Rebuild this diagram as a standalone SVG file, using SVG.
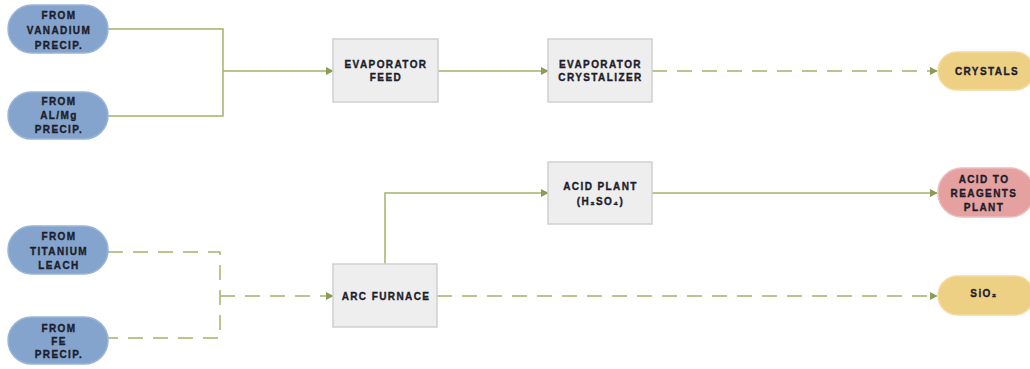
<svg xmlns="http://www.w3.org/2000/svg" width="1030" height="369" viewBox="0 0 1030 369">
<defs>
<style>
.src rect{fill:#84a4ce;stroke:#9ab4d8;stroke-width:1.5}
.box rect{fill:#eeeeee;stroke:#cfcfcf;stroke-width:1.5}
.yel rect{fill:#eed084;stroke:#f2dca4;stroke-width:1.5}
.pink rect{fill:#e4a1a0;stroke:#eebcbc;stroke-width:1.5}
text{font-family:"Liberation Sans",Arial,sans-serif;font-weight:bold;font-size:10px;fill:#1d1d2b;stroke:#1d1d2b;stroke-width:0.35;text-anchor:middle;letter-spacing:1.4px}
.ln{fill:none;stroke:#a2b26a;stroke-width:1.5}
.dash{stroke-dasharray:15 10}
</style>
<marker id="arr" viewBox="0 0 10 10" refX="9" refY="5" markerWidth="8" markerHeight="8" orient="auto" markerUnits="userSpaceOnUse">
<path d="M0,0 L10,5 L0,10 z" fill="#8d9c55"/>
</marker>
</defs>
<rect width="1030" height="369" fill="#ffffff"/>
<g id="connectors">
<path class="ln" d="M108,29 H223 V116 H108"/>
<path class="ln" d="M223,71 H333" marker-end="url(#arr)"/>
<path class="ln" d="M438,71 H548" marker-end="url(#arr)"/>
<path class="ln dash" d="M652,71 H937" marker-end="url(#arr)"/>
<path class="ln dash" d="M108,252 H220 V338 H108"/>
<path class="ln dash" d="M220,296 H333" marker-end="url(#arr)"/>
<path class="ln" d="M385,264 V193 H548" marker-end="url(#arr)"/>
<path class="ln" d="M652,193 H937" marker-end="url(#arr)"/>
<path class="ln dash" d="M437,296 H937" marker-end="url(#arr)"/>
</g>
<g id="from-vanadium" class="src">
<rect x="8" y="5" width="100" height="48" rx="24"/>
<text x="59" y="18.5">FROM</text><text x="59" y="33.5">VANADIUM</text><text x="59" y="48.5">PRECIP.</text>
</g>
<g id="from-almg" class="src">
<rect x="8" y="92" width="100" height="47" rx="23.5"/>
<text x="59" y="105">FROM</text><text x="59" y="118.5">AL/Mg</text><text x="59" y="133">PRECIP.</text>
</g>
<g id="from-titanium" class="src">
<rect x="8" y="226" width="100" height="48" rx="24"/>
<text x="59" y="240">FROM</text><text x="59" y="255">TITANIUM</text><text x="59" y="268.5">LEACH</text>
</g>
<g id="from-fe" class="src">
<rect x="8" y="317" width="100" height="47" rx="23.5"/>
<text x="59" y="331.5">FROM</text><text x="59" y="345">FE</text><text x="59" y="358">PRECIP.</text>
</g>
<g id="evaporator-feed" class="box">
<rect x="333" y="39" width="105" height="63"/>
<text x="386" y="68">EVAPORATOR</text><text x="386" y="80.5">FEED</text>
</g>
<g id="evaporator-crystalizer" class="box">
<rect x="548" y="39" width="104" height="63"/>
<text x="600.5" y="68">EVAPORATOR</text><text x="600.5" y="80.5">CRYSTALIZER</text>
</g>
<g id="acid-plant" class="box">
<rect x="548" y="162" width="104" height="62"/>
<text x="600.5" y="190">ACID PLANT</text><text x="600.5" y="205">(H₂SO₄)</text>
</g>
<g id="arc-furnace" class="box">
<rect x="333" y="264" width="104" height="63"/>
<text x="386" y="300">ARC FURNACE</text>
</g>
<g id="crystals" class="yel">
<rect x="938" y="52" width="96" height="38" rx="19"/>
<text x="987" y="75">CRYSTALS</text>
</g>
<g id="acid-to-reagents" class="pink">
<rect x="938" y="168" width="96" height="49" rx="24"/>
<text x="984" y="183">ACID TO</text><text x="984" y="197">REAGENTS</text><text x="984" y="210.5">PLANT</text>
</g>
<g id="sio2" class="yel">
<rect x="938" y="276" width="96" height="39" rx="19.5"/>
<text x="984" y="297">SiO₂</text>
</g>
</svg>
